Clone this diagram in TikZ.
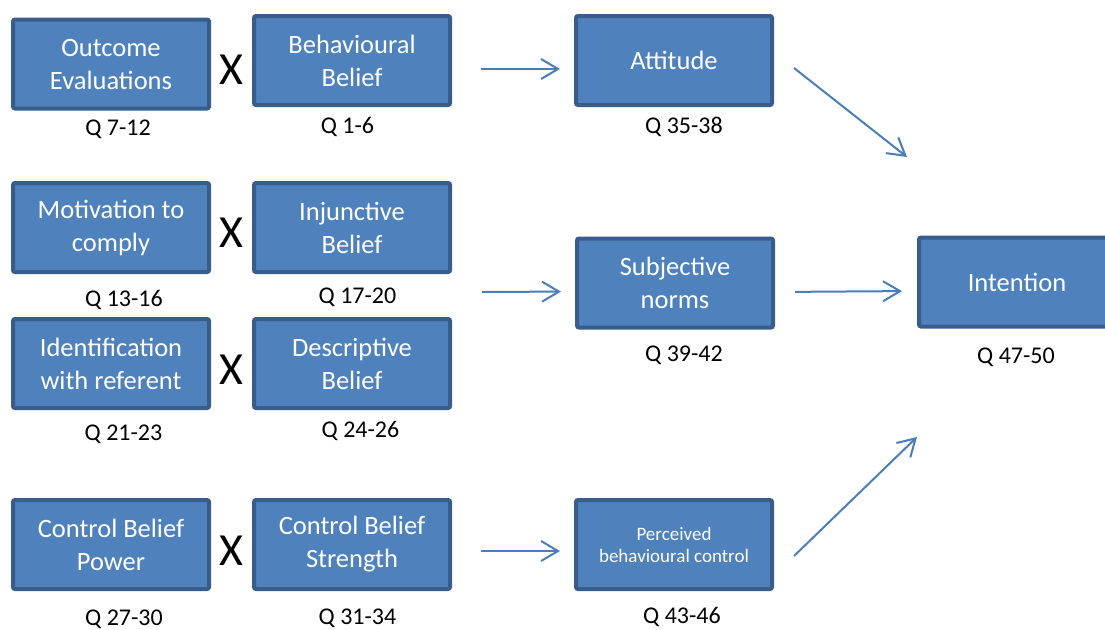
\documentclass[tikz,border=0pt]{standalone}
\usepackage{fontspec}
\setmainfont{Carlito}
\usetikzlibrary{shapes,arrows.meta,positioning}

\definecolor{boxfill}{HTML}{4F81BD}
\definecolor{boxedge}{HTML}{385D8A}
\definecolor{arrowblue}{HTML}{4A7EBB}

\begin{document}
\begin{tikzpicture}[
    x=1pt, y=-1pt,
    belief/.style={rectangle, draw=boxedge, fill=boxfill, line width=4pt, rounded corners=2pt,
        minimum width=196pt, minimum height=89pt, text=white, align=center,
        font=\fontsize{26.5}{33}\selectfont},
    qlabel/.style={inner sep=0pt, text height=16pt, text depth=5pt, font=\fontsize{24}{28}\selectfont},
    timesmark/.style={inner sep=0pt, font=\fontsize{46}{46}\selectfont},
    arrow/.style={-{Straight Barb[length=17pt, width=20pt]}, draw=arrowblue, line width=2pt}
]
\useasboundingbox (0,0) rectangle (1105,629);

% belief boxes
\node[belief] (outcome) at (111,64) {Outcome\\Evaluations};
\node[belief, right=41pt of outcome, yshift=3.5pt] (behav) {Behavioural\\Belief};
\node[belief, right=122pt of behav] (attitude) {Attitude};

\node[belief, below=70.5pt of outcome] (motiv) {Motivation to\\comply};
\node[belief, right=41pt of motiv] (injunc) {Injunctive\\Belief};

\node[belief, below=43pt of motiv] (ident) {Identification\\with referent};
\node[belief, right=41pt of ident] (descr) {Descriptive\\Belief};

\node[belief, below=88pt of ident] (ctrlpow) {Control Belief\\Power};
\node[belief, right=41pt of ctrlpow] (ctrlstr) {Control Belief\\Strength};
\node[belief, right=122pt of ctrlstr, font=\fontsize{19}{22}\selectfont] (pbc) {Perceived\\behavioural control};

\node[belief] (subj) at (675,283) {Subjective\\norms};
\node[belief] (intention) at (1017,282) {Intention};

% multiplication signs
\node[timesmark] (x1) at (231,70) {X};
\node[timesmark] (x2) at (231,233) {X};
\node[timesmark] (x3) at (231,370) {X};
\node[timesmark] (x4) at (231,551) {X};

% question numbers
\node[qlabel, below=9pt of outcome, xshift=7pt] (qoutcome) {Q 7-12};
\node[qlabel, below=10pt of behav, xshift=-4.5pt] (qbehav) {Q 1-6};
\node[qlabel, below=10pt of attitude, xshift=10pt] (qattitude) {Q 35-38};
\node[qlabel, below=16pt of motiv, xshift=13pt] (qmotiv) {Q 13-16};
\node[qlabel, below=13pt of injunc, xshift=5.5pt] (qinjunc) {Q 17-20};
\node[qlabel, below=14pt of ident, xshift=12.5pt] (qident) {Q 21-23};
\node[qlabel, below=11pt of descr, xshift=8.5pt] (qdescr) {Q 24-26};
\node[qlabel, below=18pt of ctrlpow, xshift=13pt] (qctrlpow) {Q 27-30};
\node[qlabel, below=17pt of ctrlstr, xshift=5.5pt] (qctrlstr) {Q 31-34};
\node[qlabel, below=16pt of subj, xshift=9pt] (qsubj) {Q 39-42};
\node[qlabel, below=16pt of pbc, xshift=8pt] (qpbc) {Q 43-46};
\node[qlabel, below=19pt of intention, xshift=-1pt] (qintention) {Q 47-50};

% arrows
\coordinate (normsfrom) at (482,292);
\coordinate (intatt) at (907,157);
\coordinate (intpbc) at (917,437);

\draw[arrow, shorten <=29pt, shorten >=14pt] ([yshift=-8.5pt]behav.east) -- ([yshift=-8.5pt]attitude.west);
\draw[arrow, shorten >=14pt] (normsfrom) -- ([yshift=-8.5pt]subj.west);
\draw[arrow, shorten <=29pt, shorten >=14pt] ([yshift=-6.5pt]ctrlstr.east) -- ([yshift=-6.5pt]pbc.west);

\draw[arrow] ([xshift=20pt, yshift=-7.5pt]attitude.east) -- (intatt);
\draw[arrow, shorten <=20pt, shorten >=15pt] ([yshift=-9pt]subj.east) -- ([yshift=-9pt]intention.west);
\draw[arrow] ([xshift=20pt, yshift=-11.5pt]pbc.east) -- (intpbc);

\end{tikzpicture}
\end{document}
